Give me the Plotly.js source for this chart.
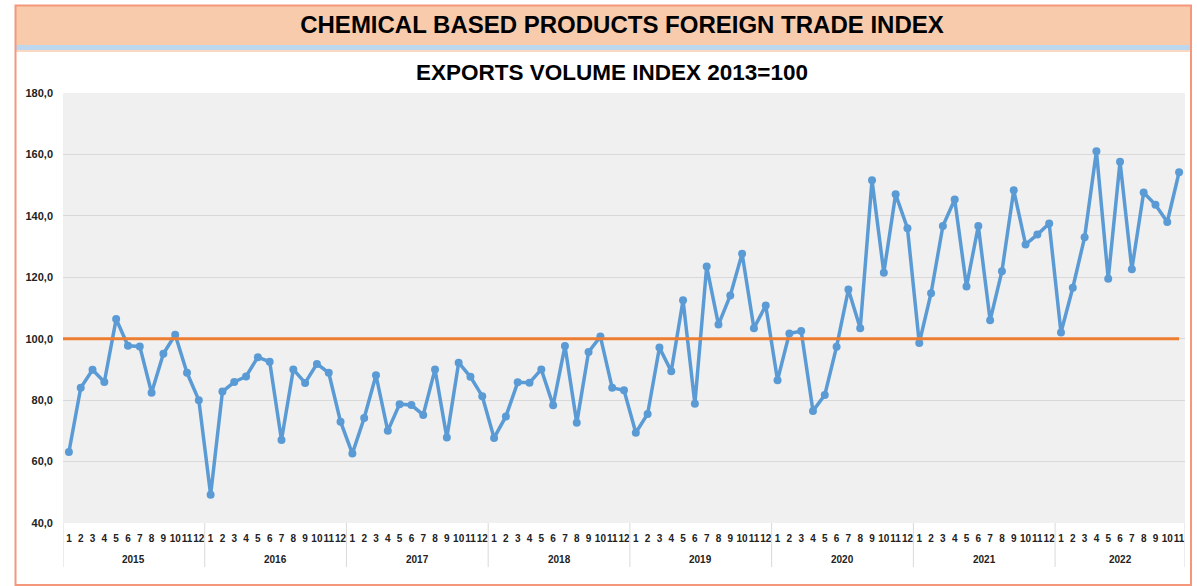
<!DOCTYPE html>
<html>
<head>
<meta charset="utf-8">
<script src="https://cdn.plot.ly/plotly-3.0.1.min.js"></script>
<style>
html,body{margin:0;padding:0;background:#fff;}
#chart{width:1197px;height:586px;}
</style>
</head>
<body>
<div id="chart"></div>
<script>
// ---- data ----
const years = ["2015","2016","2017","2018","2019","2020","2021","2022"];
const monthsPerYear = [12,12,12,12,12,12,12,11];
const monthLabels = ["1","2","3","4","5","6","7","8","9","10","11","12"];

const v2015 = [63.1, 84.0, 89.9, 85.9, 106.4, 97.7, 97.5, 82.4, 95.1, 101.3, 88.9, 80.0];
const v2016 = [49.2, 82.8, 85.9, 87.7, 94.0, 92.5, 67.0, 90.0, 85.6, 91.8, 88.9, 73.0];
const v2017 = [62.6, 74.2, 88.1, 70.0, 78.7, 78.4, 75.2, 90.0, 67.8, 92.2, 87.6, 81.3];
const v2018 = [67.7, 74.7, 85.8, 85.7, 90.0, 78.3, 97.6, 72.6, 95.7, 100.7, 84.0, 83.2];
const v2019 = [69.4, 75.5, 97.1, 89.4, 112.5, 78.8, 123.5, 104.6, 114.1, 127.7, 103.4, 110.8];
const v2020 = [86.5, 101.7, 102.5, 76.5, 81.7, 97.4, 116.0, 103.4, 151.6, 121.5, 147.0, 136.0];
const v2021 = [98.6, 114.8, 136.7, 145.3, 117.0, 136.7, 106.0, 122.0, 148.3, 130.7, 133.9, 137.5];
const v2022 = [102.0, 116.6, 133.0, 161.0, 119.5, 157.6, 122.6, 147.6, 143.6, 138.0, 154.2];
const baseIndex = 100; // 2013 = 100

const seriesByYear = [v2015, v2016, v2017, v2018, v2019, v2020, v2021, v2022];

// build flat category sequence
const xIdx = [], tickText = [], yVals = [];
const yearStart = [];
let k = 0;
years.forEach((yr, i) => {
  yearStart.push(k);
  for (let m = 0; m < monthsPerYear[i]; m++) {
    xIdx.push(k);
    tickText.push(monthLabels[m]);
    yVals.push(seriesByYear[i][m]);
    k++;
  }
});
const N = k;

// ---- layout helpers (pixel -> paper) ----
const W = 1197, H = 586, ML = 63, MR = 12, MT = 93, MB = 63;
const PW = W - ML - MR, PH = H - MT - MB;
const px = x => (x - ML) / PW;
const py = y => (H - MB - y) / PH;

const FONT = "Liberation Sans, Arial, sans-serif";

const traces = [
  {
    type: "scatter", mode: "lines+markers",
    x: xIdx, y: yVals,
    line: {color: "#5B9BD5", width: 3.5},
    marker: {color: "#5B9BD5", size: 8},
    hoverinfo: "y", showlegend: false
  },
  {
    type: "scatter", mode: "lines",
    x: [-0.5, N - 1], y: [baseIndex, baseIndex],
    line: {color: "#ED7D31", width: 3},
    hoverinfo: "skip", showlegend: false
  }
];

// year labels and dividers
const annotations = [
  {
    text: "<b>EXPORTS VOLUME INDEX 2013=100</b>",
    xref: "paper", yref: "paper",
    x: px(612), y: py(73), xanchor: "center", yanchor: "middle",
    showarrow: false,
    font: {family: FONT, size: 22.5, color: "#000"}
  }
];
const shapes = [
  // peach header band
  {type: "rect", xref: "paper", yref: "paper", layer: "below",
   x0: px(16), x1: px(1190), y0: py(6), y1: py(45),
   fillcolor: "#F8CBAD", line: {width: 0}},
  // blue strip
  {type: "rect", xref: "paper", yref: "paper", layer: "below",
   x0: px(16), x1: px(1190), y0: py(45), y1: py(50),
   fillcolor: "#BDD7EE", line: {width: 0}},
  // thin line under strip
  {type: "line", xref: "paper", yref: "paper", layer: "below",
   x0: px(16), x1: px(1190), y0: py(51), y1: py(51),
   line: {color: "#F8CBAD", width: 1.5}},
  // outer frame
  {type: "rect", xref: "paper", yref: "paper", layer: "above",
   x0: px(15.5), x1: px(1191), y0: py(5.5), y1: py(585),
   fillcolor: "rgba(0,0,0,0)", line: {color: "#F4977A", width: 2}}
];
years.forEach((yr, i) => {
  const s = yearStart[i];
  const e = s + monthsPerYear[i] - 1;
  annotations.push({
    text: "<b>" + yr + "</b>",
    xref: "x", yref: "paper",
    x: (s + e) / 2, y: py(559), xanchor: "center", yanchor: "middle",
    showarrow: false,
    font: {family: FONT, size: 10, color: "#222"}
  });
  shapes.push({
    type: "line", xref: "x", yref: "paper", layer: "above",
    x0: s - 0.5, x1: s - 0.5, y0: py(523), y1: py(567),
    line: {color: "#D9D9D9", width: 1}
  });
});
shapes.push({
  type: "line", xref: "x", yref: "paper", layer: "above",
  x0: N - 0.5, x1: N - 0.5, y0: py(523), y1: py(567),
  line: {color: "#D9D9D9", width: 1}
});

const layout = {
  width: W, height: H,
  margin: {l: ML, r: MR, t: MT, b: MB, pad: 0},
  paper_bgcolor: "#FFFFFF",
  plot_bgcolor: "#F0F0F0",
  separators: ",.",
  font: {family: FONT, color: "#000"},
  title: {
    text: "<b>CHEMICAL BASED PRODUCTS FOREIGN TRADE INDEX</b>",
    font: {family: FONT, size: 24, color: "#000"},
    xref: "container", yref: "container",
    x: 622 / W, xanchor: "center",
    y: 1 - 25 / H, yanchor: "middle"
  },
  annotations: annotations,
  xaxis: {
    type: "linear", range: [-0.5, N - 0.5],
    tickmode: "array", tickvals: xIdx, ticktext: tickText,
    showgrid: false, zeroline: false, showline: false,
    ticks: "", tickangle: 0, ticklabelstandoff: 8,
    tickfont: {family: FONT, size: 10, color: "#222", weight: "bold"}
  },
  yaxis: {
    range: [40, 180], dtick: 20, tick0: 40,
    tickformat: ".1f",
    showgrid: true, gridcolor: "#D9D9D9", gridwidth: 1,
    zeroline: false, showline: false, ticks: "",
    ticklabelstandoff: 9,
    tickfont: {family: FONT, size: 11, color: "#222", weight: "bold"}
  },
  shapes: shapes
};

Plotly.newPlot("chart", traces, layout, {displayModeBar: false, staticPlot: true});
</script>
</body>
</html>
